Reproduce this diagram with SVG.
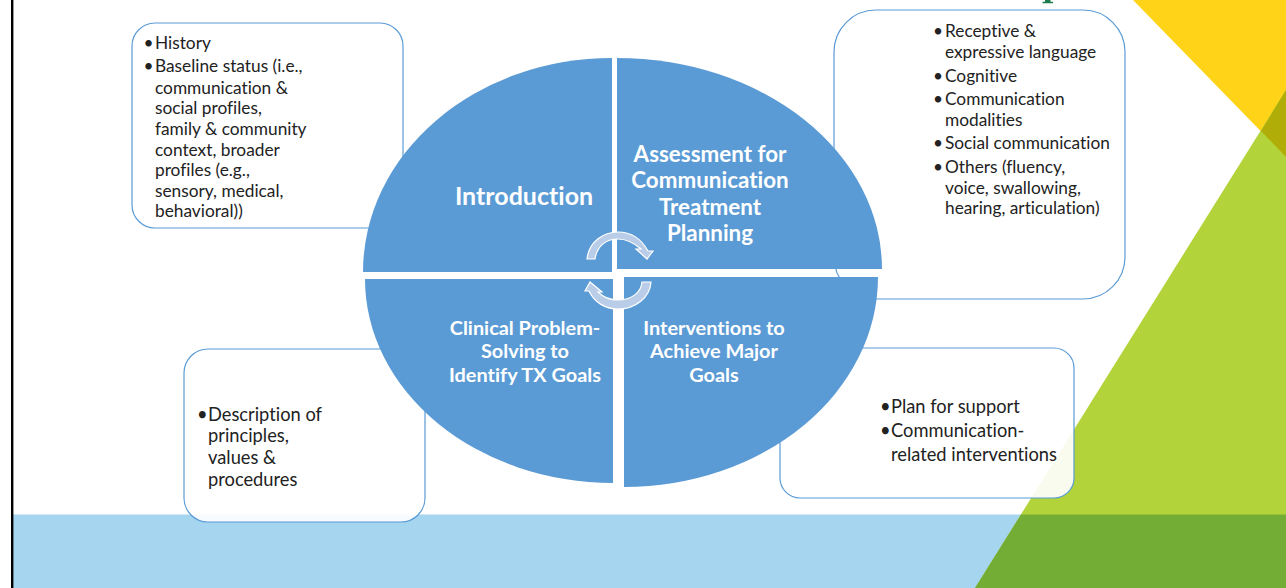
<svg xmlns="http://www.w3.org/2000/svg" width="1286" height="588" viewBox="0 0 1286 588">
<style>
.box{fill:#fff;fill-opacity:.91;stroke:#5b9bd5;stroke-width:1.2}
.quad{fill:#5b9bd5}
.arc{fill:#b9cde8;stroke:#fff;stroke-width:1.2;stroke-linejoin:miter}
text{font-family:"Lato","Carlito","Liberation Sans",sans-serif;font-variant-ligatures:none}
.b{font-size:17.3px;fill:#222}
.c{font-size:18.3px;fill:#222}
.h1{font-size:25px;font-weight:700;fill:#fff;text-anchor:middle}
.h2{font-size:22.4px;font-weight:700;fill:#fff;text-anchor:middle}
.h3{font-size:19.9px;font-weight:700;fill:#fff;text-anchor:middle}
</style>
<rect width="1286" height="588" fill="#fff"/>
<g id="background">
<rect x="13" y="514.5" width="1273" height="73.5" fill="#a6d5f0"/>
<polygon points="1133,0 1286,0 1286,157" fill="#ffd318"/>
<polygon points="975,588 1286,90 1286,588" fill="#b3d33a"/>
<polygon points="1261,131 1286,90 1286,157" fill="#b0ad08"/>
<polygon points="1021,514.5 1286,514.5 1286,588 975,588" fill="#74ad36"/>
<rect x="11" y="0" width="2.4" height="588" fill="#000"/>
<path d="M1045,0H1050.5V1.8H1053V3.2H1042.5V1.8H1045Z" fill="#1e7b4e"/>
</g>
<g id="box-history">
<rect class="box" x="132" y="23" width="271" height="205" rx="23"/>
<text class="b" x="143.500" y="49">•</text><text class="b" x="155" y="49">History</text>
<text class="b" x="143.500" y="72">•</text><text class="b" x="155" y="72">Baseline status (i.e.,</text>
<text class="b" x="155" y="94">communication &amp;</text>
<text class="b" x="155" y="114">social profiles,</text>
<text class="b" x="155" y="135">family &amp; community</text>
<text class="b" x="155" y="156">context, broader</text>
<text class="b" x="155" y="176">profiles (e.g.,</text>
<text class="b" x="155" y="197">sensory, medical,</text>
<text class="b" x="155" y="217">behavioral))</text>
</g>
<g id="box-assessment">
<rect class="box" x="834" y="10" width="291" height="289" rx="42"/>
<text class="b" x="933" y="37">•</text><text class="b" x="945" y="37">Receptive &amp;</text>
<text class="b" x="945" y="58">expressive language</text>
<text class="b" x="933" y="82">•</text><text class="b" x="945" y="82">Cognitive</text>
<text class="b" x="933" y="105">•</text><text class="b" x="945" y="105">Communication</text>
<text class="b" x="945" y="126">modalities</text>
<text class="b" x="933" y="149">•</text><text class="b" x="945" y="149">Social communication</text>
<text class="b" x="933" y="173">•</text><text class="b" x="945" y="173">Others (fluency,</text>
<text class="b" x="945" y="194">voice, swallowing,</text>
<text class="b" x="945" y="214">hearing, articulation)</text>
</g>
<g id="box-principles">
<rect class="box" x="184" y="349" width="241" height="173" rx="24"/>
<text class="c" x="197" y="421">•</text><text class="c" x="208" y="421">Description of</text>
<text class="c" x="208" y="442">principles,</text>
<text class="c" x="208" y="464">values &amp;</text>
<text class="c" x="208" y="486">procedures</text>
</g>
<g id="box-support">
<rect class="box" x="780" y="348" width="294" height="150" rx="20"/>
<text class="c" x="880" y="413">•</text><text class="c" x="891" y="413">Plan for support</text>
<text class="c" x="880" y="437">•</text><text class="c" x="891" y="437">Communication-</text>
<text class="c" x="891" y="461">related interventions</text>
</g>
<g id="node-introduction">
<path class="quad" d="M612,272V58A249,214 0 0 0 363,272Z"/>
<text class="h1" x="524" y="205">Introduction</text>
</g>
<g id="node-assessment">
<path class="quad" d="M617,269V58A265,211 0 0 1 882,269Z"/>
<text class="h2" x="710" y="162">Assessment for</text>
<text class="h2" x="710" y="188">Communication</text>
<text class="h2" x="710" y="215">Treatment</text>
<text class="h2" x="710" y="241">Planning</text>
</g>
<g id="node-clinical">
<path class="quad" d="M613,279V483A248,204 0 0 1 365,279Z"/>
<text class="h3" x="525" y="335">Clinical Problem-</text>
<text class="h3" x="525" y="358">Solving to</text>
<text class="h3" x="525" y="382">Identify TX Goals</text>
</g>
<g id="node-interventions">
<path class="quad" d="M624,277V487A254,210 0 0 0 878,277Z"/>
<text class="h3" x="714" y="335">Interventions to</text>
<text class="h3" x="714" y="358">Achieve Major</text>
<text class="h3" x="714" y="382">Goals</text>
</g>
<g id="connectors">
<path class="arc" d="M587,259C589,241 604,232 618,232C632,232 642,240 648,251L653,251L647,259L636,249L641,249C634,243 627,239 618,239C606,239 597,246 595,259Z"/>
<path class="arc" d="M651,282C650,298 635,309 618,309C605,309 594,302 589,291L585,291L590,282L602,292L598,292C603,297 610,300 618,300C631,300 641,293 642,282Z"/>
</g>
</svg>
